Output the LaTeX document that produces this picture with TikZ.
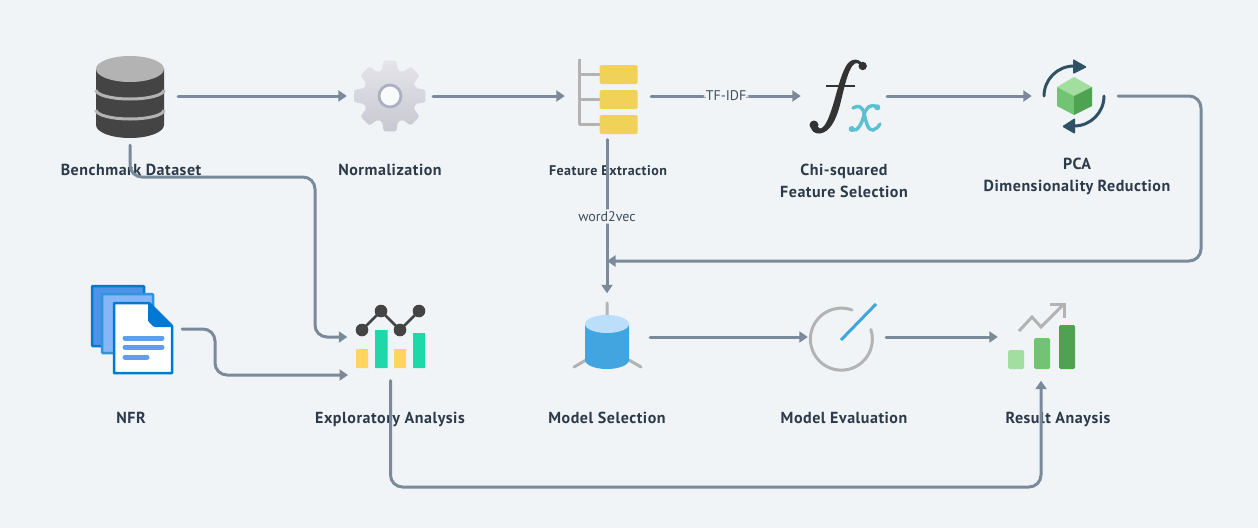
\documentclass[tikz,border=0pt]{standalone}
\usepackage{fontspec}
\setmainfont{PT Sans}
\usetikzlibrary{arrows.meta}
\definecolor{pagebg}{HTML}{F0F4F7}
\definecolor{flowgray}{HTML}{7B8A9A}
\definecolor{inkdark}{HTML}{2C3A49}
\definecolor{icongray}{HTML}{B3B3B3}
\definecolor{icondark}{HTML}{444444}
\definecolor{lightgreen}{HTML}{A1DEA0}
\definecolor{midgreen}{HTML}{70C472}
\definecolor{deepgreen}{HTML}{4FA24F}
\definecolor{tealdark}{HTML}{2E5163}
\definecolor{docblue}{HTML}{0078D4}
\definecolor{pageblue}{HTML}{4D94E8}
\definecolor{pagesky}{HTML}{85B6F7}
\definecolor{lineblue}{HTML}{5E9EEE}
\definecolor{cylblue}{HTML}{42A5E0}
\definecolor{cyltop}{HTML}{BBDEFB}
\definecolor{boxyellow}{HTML}{F0D258}
\definecolor{baryellow}{HTML}{FFD55F}
\definecolor{barteal}{HTML}{1FD8A9}
\definecolor{geartop}{HTML}{E4E4E9}
\definecolor{gearbottom}{HTML}{C8C8D2}
\definecolor{gearring}{HTML}{ADAFC2}
\definecolor{fxteal}{HTML}{5BC0CF}
\definecolor{fxdark}{HTML}{333333}
\tikzset{
    iconbox/.style={inner sep=0pt, minimum width=86pt, minimum height=87pt},
    steplabel/.style={font=\fontsize{16}{22}\selectfont\bfseries\addfontfeature{LetterSpace=3.3}, text=inkdark, align=center, inner sep=0pt},
    edgelabel/.style={font=\fontsize{14}{16}\selectfont, text=inkdark!90, fill=pagebg, inner sep=2pt},
    flowline/.style={draw=flowgray, line width=3pt, line cap=round, rounded corners=12pt, -{Triangle[length=8.5pt,width=11pt]}},
    iconline/.style={draw=icongray, line width=3pt}
}
\begin{document}
\begin{tikzpicture}[x=1pt, y=-1pt]
	\fill[pagebg] (0,0) rectangle (1258,528);
	\useasboundingbox (0,0) rectangle (1258,528);

	\node [iconbox, minimum width=96pt, minimum height=98pt] (dataset) at (130,96) {};
	\node [iconbox] (norm) at (390,96) {};
	\node [iconbox] (feature) at (608,96) {};
	\node [iconbox] (fx) at (844,96) {};
	\node [iconbox] (pca) at (1075,96) {};
	\node [iconbox, minimum height=0pt, minimum width=104pt] (nfr) at (130,329) {};
	\node [iconbox] (explore) at (390.5,337) {};
	\node [iconbox] (select) at (607,337) {};
	\node [iconbox, minimum width=78pt] (evalu) at (847,337) {};
	\node [iconbox] (result) at (1041,337) {};

	\coordinate (busA) at (315,177);
	\coordinate (busB) at (1201,261);
	\coordinate (selectIn) at (607,261);
	\coordinate (busC) at (215,375);
	\coordinate (exploreIn) at (348,375);
	\coordinate (busD) at (1041,487);

	% labels
	\node [steplabel, anchor=base] (datasetText) at (131,175) {Benchmark Dataset};
	\node [steplabel, anchor=base] (normText) at (390,175) {Normalization};
	\node [steplabel, anchor=base, font=\fontsize{14}{16}\selectfont\bfseries\addfontfeature{LetterSpace=3.3}] (featureText) at (608,175) {Feature Extraction};
	\node [steplabel] (fxText) at (844,181) {Chi-squared\\Feature Selection};
	\node [steplabel] (pcaText) at (1077,176) {PCA\\Dimensionality Reduction};
	\node [steplabel, anchor=base] (nfrText) at (131,423) {NFR};
	\node [steplabel, anchor=base] (exploreText) at (390,423) {Exploratory Analysis};
	\node [steplabel, anchor=base] (selectText) at (607,423) {Model Selection};
	\node [steplabel, anchor=base] (evaluText) at (844,423) {Model Evaluation};
	\node [steplabel, anchor=base] (resultText) at (1058,423) {Result Anaysis};

	% dataset
	\fill[icondark] (96,68) -- (96,125) arc (180:0:34 and 13) -- (164,68) -- cycle;
	\fill[icongray] (130,69) ellipse [x radius=34, y radius=13];
	\draw[iconline] (96,90) arc (180:0:34 and 9);
	\draw[iconline] (96,110) arc (180:0:34 and 9);

	% gear
	\shade[top color=geartop, bottom color=gearbottom, shift={(390,96)}, rounded corners=1.5pt]
		(-17:27) foreach \a in {0,45,...,315} { -- ({\a-17}:27) -- ({\a-10}:36) -- ({\a+10}:36) -- ({\a+17}:27) } -- cycle;
	\draw[draw=gearring, fill=pagebg!50!white, line width=2.8pt] (390,96) circle (11);

	% feature tree
	\draw[iconline, line join=round] (579,59) -- (579,124.5) -- (600,124.5) (579,74) -- (600,74) (579,99.5) -- (600,99.5);
	\foreach \y in {65,90,115} {
		\fill[boxyellow, rounded corners=1.5pt] (599.5,\y) rectangle ++(38,19);
	}

	% fx
	\fill[fxdark] (863,66) .. controls (861,58) and (851,57) .. (846,66) .. controls (840,77) and (837,92) .. (833,105) .. controls (829,118) and (825,128) .. (820,128.5) .. controls (818,128.5) and (818,126) .. (817,125) -- (811,127) .. controls (811,131) and (815,134) .. (820,133.5) .. controls (830,132) and (836,120) .. (840,105) .. controls (843,93) and (846,78) .. (850,70) .. controls (853,63) and (857,62) .. (859,64) -- cycle;
	\fill[fxdark] (862.7,66) circle (4.2) (814,125) circle (4.5);
	\draw[fxdark, line width=2pt] (826,86) -- (855,86);
	\draw[fxteal, line width=3.4pt, line cap=round] (853,108) .. controls (858,105) and (862,106) .. (864,113) .. controls (866,122) and (868,131) .. (873,130) .. controls (876,129.5) and (878,127) .. (880,124);
	\draw[fxteal, line width=3.4pt, line cap=round] (877,107) .. controls (870,103) and (866,108) .. (864,115) .. controls (862,123) and (858,132) .. (852,130);
	\fill[fxteal] (877.3,107.3) circle (3) (851.7,129) circle (3);

	% pca
	\fill[lightgreen] (1074,77) -- (1092,87) -- (1074,96) -- (1057,87) -- cycle;
	\fill[midgreen] (1057,87) -- (1074,96) -- (1074,115) -- (1057,106) -- cycle;
	\fill[deepgreen] (1092,87) -- (1074,96) -- (1074,115) -- (1092,106) -- cycle;
	\draw[tealdark, line width=3pt, line cap=round] (1044,96) arc (180:270:30);
	\draw[tealdark, line width=3pt, line cap=round] (1104,96) arc (0:90:30);
	\fill[tealdark, rounded corners=1pt] (1073,59) -- (1087,67) -- (1073,74) -- cycle;
	\fill[tealdark, rounded corners=1pt] (1075,118) -- (1062,126.5) -- (1075,134) -- cycle;

	% nfr
	\fill[pageblue, draw=docblue, line width=2.5pt, rounded corners=1pt] (92,286) rectangle (144,346);
	\fill[pagesky, draw=docblue!80!white, line width=2.5pt, rounded corners=1pt] (102,294) rectangle (153,353);
	\fill[white, draw=docblue, line width=2.5pt, line join=round] (114,303) -- (149,303) -- (172,326) -- (172,373) -- (114,373) -- cycle;
	\fill[docblue, rounded corners=1pt] (148,303) -- (173,327) -- (154,327) -- (148,321) -- cycle;
	\draw[lineblue, line width=5pt, line cap=round] (125,338) -- (162,338) (125,347) -- (162,347) (125,357) -- (147,357);

	% exploratory
	\fill[baryellow] (356,349) rectangle (368,368) (394,349) rectangle (406,368);
	\fill[barteal] (375,330) rectangle (387.5,368) (413,333) rectangle (425,368);
	\draw[icondark, line width=2.5pt] (362,330) -- (381,311) -- (400,330) -- (419,311);
	\foreach \x/\y in {362/330,381/311,400/330,419/311} {
		\fill[icondark] (\x,\y) circle (6.3);
	}

	% model selection
	\draw[iconline, line cap=round] (607,303) -- (607,316) (574,367) -- (586,360) (641,367) -- (629,360);
	\fill[cylblue] (585,324) -- (585,360) arc (180:0:22 and 9) -- (629,324) -- cycle;
	\fill[cyltop] (607,324) ellipse [x radius=22, y radius=9];

	% evaluation
	\draw[iconline, line cap=round] (852,310) arc (-70:-378:31);
	\draw[cylblue, line width=3pt] (841,340) -- (876,304);

	% result
	\fill[lightgreen, rounded corners=1.5pt] (1008,350) rectangle (1024,369);
	\fill[midgreen, rounded corners=1.5pt] (1034,338) rectangle (1050,369);
	\fill[deepgreen, rounded corners=1.5pt] (1059,325) rectangle (1075,369);
	\draw[iconline] (1019,331) -- (1032,317) -- (1041,327) -- (1063,305);
	\draw[iconline] (1050,304) -- (1064,304) -- (1064,318);

	% connectors
	\draw[flowline] (dataset.east) -- (norm.west);
	\draw[flowline] (norm.east) -- (feature.west);
	\draw[flowline] (feature.east) -- node[edgelabel]{TF-IDF} (fx.west);
	\draw[flowline] (fx.east) -- (pca.west);
	\draw[flowline] (pca.east) -| (busB) -- (selectIn);
	\draw[flowline] (feature.south -| select.north) -- node[edgelabel]{word2vec} (select.north);
	\draw[flowline] (dataset.south) |- (busA) |- (explore.west);
	\draw[flowline] (nfr.east) -| (busC) -- (exploreIn);
	\draw[flowline] (select.east) -- (evalu.west);
	\draw[flowline] (evalu.east) -- (result.west);
	\draw[flowline] (explore.south) |- (busD) -- (result.south);
\end{tikzpicture}
\end{document}
